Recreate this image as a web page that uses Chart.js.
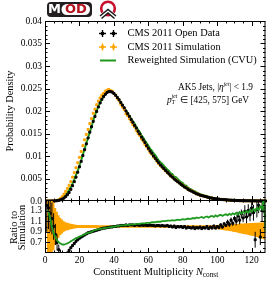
<!DOCTYPE html>
<html>
<head>
<meta charset="utf-8">
<script src="https://cdn.jsdelivr.net/npm/chart.js@4.4.1/dist/chart.umd.min.js"></script>
<style>
  html, body { margin: 0; padding: 0; background: #fff; }
  #wrap { position: relative; width: 274px; height: 285px; }
  #wrap canvas { position: absolute; left: 0; top: 0; }
</style>
</head>
<body>
<div id="wrap">
  <canvas id="mainChart" width="274" height="285"></canvas>
  <canvas id="ratioChart" width="274" height="285"></canvas>
</div>
<script>
// ---- data: one bin per constituent multiplicity, N = 1 .. 128 ----
var openData = [
  0, 0, 0, 0.00001, 0.00002, 0.00004, 0.00008, 0.00015, 0.00026, 0.00042,
  0.00065, 0.00097, 0.0014, 0.0019, 0.0026, 0.0034, 0.0043, 0.0053, 0.0064, 0.0076,
  0.0088, 0.0101, 0.0114, 0.0127, 0.0140, 0.0153, 0.0165, 0.0177, 0.0188, 0.0199,
  0.0209, 0.0218, 0.0226, 0.0232, 0.0237, 0.0241, 0.0243, 0.0243, 0.0242, 0.0239,
  0.0235, 0.0230, 0.0225, 0.0219, 0.0213, 0.0207, 0.0200, 0.0194, 0.0188, 0.0181,
  0.0175, 0.0168, 0.0162, 0.0155, 0.0149, 0.0142, 0.0136, 0.0130, 0.0123, 0.0117,
  0.0111, 0.0106, 0.0100, 0.0095, 0.0090, 0.0085, 0.0080, 0.0076, 0.0072, 0.0068,
  0.0064, 0.0060, 0.0056, 0.0053, 0.0049, 0.0046, 0.0043, 0.0040, 0.0037, 0.0034,
  0.0031, 0.0029, 0.0026, 0.0024, 0.0022, 0.0020, 0.0018, 0.0016, 0.0015, 0.0013,
  0.0012, 0.0011, 0.0010, 0.0009, 0.0008, 0.0007, 0.00063, 0.00056, 0.0005, 0.00045,
  0.0004, 0.00035, 0.00032, 0.0003, 0.00026, 0.00023, 0.0002, 0.00018, 0.00016, 0.00014,
  0.00012, 0.0001, 0.00009, 0.00008, 0.00007, 0.00006, 0.00005, 0.00005, 0.00004, 0.00004,
  0.00003, 0.00003, 0.00002, 0.00002, 0.00002, 0.00001, 0.00001, 0.00001
];
var simulation = [
  0, 0, 0, 0.00001, 0.00002, 0.00005, 0.00011, 0.00027, 0.00054, 0.00095,
  0.0015, 0.0021, 0.0028, 0.0035, 0.0043, 0.0053, 0.0063, 0.0074, 0.0085, 0.0097,
  0.0110, 0.0123, 0.0136, 0.0148, 0.0159, 0.0172, 0.0183, 0.0195, 0.0204, 0.0214,
  0.0222, 0.0229, 0.0235, 0.0239, 0.0244, 0.0246, 0.0248, 0.0245, 0.0244, 0.0239,
  0.0235, 0.0228, 0.0223, 0.0215, 0.0209, 0.0203, 0.0194, 0.0190, 0.0183, 0.0176,
  0.0170, 0.0165, 0.0157, 0.0150, 0.0146, 0.0138, 0.0133, 0.0126, 0.0121, 0.0115,
  0.0108, 0.0104, 0.0098, 0.0094, 0.0088, 0.0083, 0.0079, 0.0075, 0.0071, 0.0067,
  0.0063, 0.0060, 0.0055, 0.0054, 0.0049, 0.0047, 0.0043, 0.0040, 0.0037, 0.0035,
  0.0031, 0.0030, 0.0026, 0.0024, 0.0023, 0.0020, 0.0019, 0.0016, 0.0015, 0.0013,
  0.0012, 0.0011, 0.0010, 0.0009, 0.0008, 0.0007, 0.00065, 0.00055, 0.00052, 0.00045,
  0.00041, 0.00034, 0.00032, 0.00029, 0.00025, 0.00021, 0.00019, 0.00016, 0.00015, 0.00012,
  0.00011, 0.00008, 0.00008, 0.00006, 0.00006, 0.00005, 0.00004, 0.00004, 0.00003, 0.00003,
  0.00002, 0.00004, 0.00002, 0.00001, 0.00002, 0.00001, 0.00001, 0.00001
];
var reweighted = [
  0, 0, 0, 0.00001, 0.00002, 0.00004, 0.00008, 0.00019, 0.00037, 0.00063,
  0.00099, 0.0014, 0.0019, 0.0025, 0.0031, 0.0039, 0.0048, 0.0058, 0.0067, 0.0079,
  0.0090, 0.0103, 0.0116, 0.0129, 0.0140, 0.0153, 0.0165, 0.0179, 0.0190, 0.0201,
  0.0211, 0.0218, 0.0226, 0.0232, 0.0237, 0.0241, 0.0243, 0.0243, 0.0242, 0.0239,
  0.0235, 0.0230, 0.0225, 0.0219, 0.0213, 0.0207, 0.0200, 0.0196, 0.0188, 0.0183,
  0.0177, 0.0172, 0.0165, 0.0158, 0.0153, 0.0146, 0.0141, 0.0134, 0.0129, 0.0123,
  0.0116, 0.0112, 0.0106, 0.0102, 0.0096, 0.0090, 0.0086, 0.0083, 0.0078, 0.0074,
  0.0070, 0.0067, 0.0061, 0.0060, 0.0054, 0.0053, 0.0049, 0.0045, 0.0042, 0.0040,
  0.0035, 0.0034, 0.0030, 0.0027, 0.0026, 0.0023, 0.0022, 0.0019, 0.0017, 0.0015,
  0.0014, 0.0013, 0.0012, 0.0011, 0.0009, 0.0008, 0.00078, 0.00065, 0.00063, 0.00054,
  0.0005, 0.00041, 0.00038, 0.00035, 0.00031, 0.00025, 0.00024, 0.0002, 0.00019, 0.00015,
  0.00014, 0.0001, 0.0001, 0.00007, 0.00008, 0.00006, 0.00005, 0.00005, 0.00004, 0.00004,
  0.00003, 0.00005, 0.00003, 0.00001, 0.00003, 0.00001, 0.00002, 0.00001
];

// ratio panel
var ratioData = [
  1.40, 1.35, 1.25, 1.15, 1.00, 0.85, 0.70, 0.56, 0.48, 0.44,
  0.43, 0.46, 0.50, 0.55, 0.60, 0.64, 0.68, 0.72, 0.75, 0.78,
  0.80, 0.82, 0.84, 0.86, 0.88, 0.89, 0.90, 0.91, 0.92, 0.93,
  0.94, 0.95, 0.96, 0.97, 0.97, 0.98, 0.98, 0.99, 0.99, 1.00,
  1.00, 1.01, 1.01, 1.02, 1.02, 1.02, 1.03, 1.02, 1.03, 1.03,
  1.03, 1.02, 1.03, 1.03, 1.02, 1.03, 1.02, 1.03, 1.02, 1.02,
  1.03, 1.02, 1.02, 1.01, 1.02, 1.02, 1.01, 1.02, 1.01, 1.01,
  1.02, 1.00, 1.01, 0.99, 1.01, 0.98, 1.00, 0.99, 1.00, 0.98,
  1.00, 0.97, 0.99, 0.98, 0.97, 0.99, 0.96, 0.98, 0.97, 0.99,
  0.96, 0.98, 0.97, 1.00, 0.96, 0.99, 0.97, 1.01, 0.97, 1.00,
  0.98, 1.03, 0.99, 1.05, 1.02, 1.08, 1.04, 1.12, 1.06, 1.15,
  1.10, 1.20, 1.12, 1.24, 1.16, 1.28, 1.18, 1.30, 1.22, 1.35,
  1.26, 0.75, 1.32, 1.40, 0.80, 1.30, 1.45, 1.20
];
var ratioDataErr = [
  0.50, 0.40, 0.35, 0.30, 0.25, 0.20, 0.15, 0.10, 0.08, 0.06,
  0.05, 0.04, 0.03, 0.03, 0.02, 0.02, 0.02, 0.02, 0.02, 0.02,
  0.01, 0.01, 0.01, 0.01, 0.01, 0.01, 0.01, 0.01, 0.01, 0.01,
  0.01, 0.01, 0.01, 0.01, 0.01, 0.01, 0.01, 0.01, 0.01, 0.01,
  0.01, 0.01, 0.01, 0.01, 0.01, 0.01, 0.01, 0.01, 0.01, 0.01,
  0.01, 0.01, 0.01, 0.01, 0.01, 0.01, 0.01, 0.01, 0.01, 0.01,
  0.01, 0.01, 0.01, 0.01, 0.01, 0.01, 0.01, 0.01, 0.01, 0.01,
  0.01, 0.01, 0.01, 0.01, 0.01, 0.01, 0.01, 0.01, 0.01, 0.01,
  0.01, 0.01, 0.01, 0.01, 0.01, 0.01, 0.01, 0.01, 0.01, 0.01,
  0.02, 0.02, 0.02, 0.02, 0.02, 0.02, 0.02, 0.02, 0.02, 0.02,
  0.03, 0.03, 0.03, 0.03, 0.03, 0.05, 0.05, 0.05, 0.05, 0.05,
  0.08, 0.08, 0.08, 0.08, 0.08, 0.12, 0.12, 0.12, 0.12, 0.12,
  0.15, 0.15, 0.15, 0.15, 0.15, 0.20, 0.20, 0.20
];
var ratioReweighted = [
  1.30, 1.28, 1.15, 1.00, 0.88, 0.80, 0.74, 0.70, 0.68, 0.66,
  0.66, 0.67, 0.68, 0.70, 0.72, 0.74, 0.76, 0.78, 0.79, 0.81,
  0.82, 0.84, 0.85, 0.87, 0.88, 0.89, 0.90, 0.92, 0.93, 0.94,
  0.95, 0.95, 0.96, 0.97, 0.97, 0.98, 0.98, 0.99, 0.99, 1.00,
  1.00, 1.01, 1.01, 1.02, 1.02, 1.02, 1.03, 1.03, 1.03, 1.04,
  1.04, 1.04, 1.05, 1.05, 1.05, 1.06, 1.06, 1.06, 1.07, 1.07,
  1.07, 1.08, 1.08, 1.08, 1.09, 1.09, 1.09, 1.10, 1.10, 1.10,
  1.11, 1.11, 1.11, 1.12, 1.11, 1.12, 1.13, 1.12, 1.13, 1.14,
  1.13, 1.14, 1.15, 1.14, 1.15, 1.16, 1.15, 1.17, 1.16, 1.17,
  1.18, 1.16, 1.18, 1.19, 1.17, 1.19, 1.20, 1.18, 1.21, 1.19,
  1.21, 1.22, 1.20, 1.22, 1.23, 1.21, 1.24, 1.22, 1.25, 1.23,
  1.26, 1.22, 1.27, 1.24, 1.28, 1.25, 1.29, 1.26, 1.31, 1.28,
  1.33, 1.29, 1.35, 1.31, 1.38, 1.33, 1.55, 0.90
];
// simulation statistical band (lower / upper edge of ratio)
var simBandLow = [
  0.45, 0.45, 0.45, 0.45, 0.55, 0.65, 0.72, 0.79, 0.84, 0.87,
  0.90, 0.92, 0.93, 0.94, 0.95, 0.955, 0.96, 0.965, 0.97, 0.97,
  0.97, 0.97, 0.97, 0.97, 0.97, 0.97, 0.97, 0.97, 0.97, 0.97,
  0.975, 0.975, 0.975, 0.975, 0.975, 0.975, 0.975, 0.975, 0.975, 0.975, 0.975, 0.975, 0.975,
  0.975, 0.975, 0.975, 0.975, 0.975, 0.975, 0.975, 0.975, 0.975, 0.975, 0.975, 0.975, 0.975,
  0.975, 0.975, 0.975, 0.975, 0.975, 0.975, 0.975, 0.975, 0.975, 0.975, 0.975, 0.975, 0.975,
  0.975, 0.975, 0.975, 0.975, 0.975, 0.975, 0.975, 0.975, 0.975, 0.975, 0.975, 0.975, 0.975,
  0.975, 0.975, 0.975, 0.975, 0.975, 0.975, 0.975, 0.975, 0.975, 0.975, 0.975, 0.975, 0.975,
  0.97, 0.965, 0.96, 0.955, 0.95, 0.945, 0.94, 0.935, 0.93, 0.925, 0.92,
  0.915, 0.91, 0.90, 0.895, 0.89, 0.88, 0.875, 0.87, 0.86, 0.855, 0.85,
  0.84, 0.83, 0.825, 0.82, 0.81, 0.80, 0.79, 0.78, 0.77, 0.76, 0.75
];
var simBandHigh = [
  1.55, 1.55, 1.55, 1.55, 1.45, 1.35, 1.28, 1.21, 1.16, 1.13,
  1.10, 1.08, 1.07, 1.06, 1.05, 1.045, 1.04, 1.035, 1.03, 1.03,
  1.03, 1.03, 1.03, 1.03, 1.03, 1.03, 1.03, 1.03, 1.03, 1.03,
  1.025, 1.025, 1.025, 1.025, 1.025, 1.025, 1.025, 1.025, 1.025, 1.025, 1.025, 1.025, 1.025,
  1.025, 1.025, 1.025, 1.025, 1.025, 1.025, 1.025, 1.025, 1.025, 1.025, 1.025, 1.025, 1.025,
  1.025, 1.025, 1.025, 1.025, 1.025, 1.025, 1.025, 1.025, 1.025, 1.025, 1.025, 1.025, 1.025,
  1.025, 1.025, 1.025, 1.025, 1.025, 1.025, 1.025, 1.025, 1.025, 1.025, 1.025, 1.025, 1.025,
  1.025, 1.025, 1.025, 1.025, 1.025, 1.025, 1.025, 1.025, 1.025, 1.025, 1.025, 1.025, 1.025,
  1.025, 1.025, 1.03, 1.03, 1.03, 1.035, 1.035, 1.035, 1.04, 1.04, 1.04,
  1.045, 1.045, 1.045, 1.05, 1.05, 1.05, 1.055, 1.055, 1.055, 1.06, 1.06,
  1.06, 1.065, 1.065, 1.065, 1.07, 1.07, 1.07, 1.075, 1.075, 1.08, 1.08
];

// axis ticks
var multTicks = [0, 20, 40, 60, 80, 100, 120];
var densityTicks = [0, 0.005, 0.01, 0.015, 0.02, 0.025, 0.03, 0.035, 0.04];
var densityLabels = ["0.0", "0.005", "0.01", "0.015", "0.02", "0.025", "0.03", "0.035", "0.04"];
var ratioTicks = [0.7, 0.9, 1.1, 1.3];
var ratioMinor = [0.6, 0.8, 1.0, 1.2, 1.4];

var SERIF = '"Liberation Serif", "Times New Roman", serif';
var ORANGE = '#ffa500';
var GREEN = '#1f9a1f';

function pts(arr) {
  return arr.map(function(v, i) { return { x: i + 1, y: v }; });
}

function partFont(p, size) {
  return (p.it ? 'italic ' : '') + (size * (p.s || 1)) + 'px ' + SERIF;
}

// draws a run of text pieces (italic / sub / superscript); squeezes it into
// `fitW` pixels if given, anchored at its left or right end
function richText(ctx, parts, x, y, size, align, fitW) {
  var w = 0;
  parts.forEach(function(p) {
    ctx.font = partFont(p, size);
    if (!p.keep) w += ctx.measureText(p.t).width;
  });
  var sx = fitW ? Math.min(1, fitW / w) : 1;
  var left = align === 'right' ? x - w * sx : align === 'center' ? x - w * sx / 2 : x;
  ctx.save();
  ctx.translate(left, y);
  ctx.scale(sx, 1);
  ctx.textAlign = 'left';
  var cx = 0;
  parts.forEach(function(p) {
    ctx.font = partFont(p, size);
    ctx.fillText(p.t, cx, p.dy || 0);
    if (!p.keep) cx += ctx.measureText(p.t).width;
  });
  ctx.restore();
}

function drawFrame(chart, yMajor, yMinor) {
  var ctx = chart.ctx, a = chart.chartArea, xs = chart.scales.x, ys = chart.scales.y;
  ctx.save();
  ctx.strokeStyle = '#000';
  ctx.lineWidth = 1;
  ctx.strokeRect(a.left + 0.5, a.top + 0.5, a.right - a.left - 1, a.bottom - a.top - 1);
  ctx.beginPath();
  for (var v = 0; v <= 128; v += 5) {
    var px = Math.round(xs.getPixelForValue(v)) + 0.5;
    var len = multTicks.indexOf(v) >= 0 ? 5 : 2.5;
    ctx.moveTo(px, a.bottom); ctx.lineTo(px, a.bottom - len);
    ctx.moveTo(px, a.top); ctx.lineTo(px, a.top + len);
  }
  yMajor.forEach(function(v) {
    var py = Math.round(ys.getPixelForValue(v)) + 0.5;
    ctx.moveTo(a.left, py); ctx.lineTo(a.left + 5, py);
    ctx.moveTo(a.right, py); ctx.lineTo(a.right - 5, py);
  });
  yMinor.forEach(function(v) {
    var py = Math.round(ys.getPixelForValue(v)) + 0.5;
    ctx.moveTo(a.left, py); ctx.lineTo(a.left + 2.5, py);
    ctx.moveTo(a.right, py); ctx.lineTo(a.right - 2.5, py);
  });
  ctx.stroke();
  ctx.restore();
}

function legendCross(ctx, cx, cy, color) {
  ctx.strokeStyle = color;
  ctx.fillStyle = color;
  ctx.lineWidth = 1.4;
  ctx.beginPath();
  ctx.moveTo(cx - 3.5, cy); ctx.lineTo(cx + 3.5, cy);
  ctx.moveTo(cx, cy - 3.5); ctx.lineTo(cx, cy + 3.5);
  ctx.stroke();
  ctx.fillRect(cx - 1.5, cy - 1.5, 3, 3);
}

function drawLogo(ctx) {
  ctx.save();
  ctx.fillStyle = '#231f20';
  ctx.beginPath(); ctx.roundRect(47, 2, 45, 15, 4); ctx.fill();
  ctx.fillStyle = '#fff';
  ctx.beginPath(); ctx.roundRect(61.5, 4, 28.5, 11, 5.5); ctx.fill();
  ctx.font = 'bold 13px "DejaVu Sans", sans-serif';
  ctx.textAlign = 'center';
  ctx.textBaseline = 'middle';
  ctx.fillText('M', 54.5, 10);
  ctx.fillStyle = '#b3121c';
  ctx.fillText('OD', 75.8, 10);
  // red ring with double chevron
  ctx.strokeStyle = '#c8102e';
  ctx.lineWidth = 2.6;
  ctx.beginPath(); ctx.arc(108, 8.5, 6.8, 0, Math.PI * 2); ctx.stroke();
  ctx.strokeStyle = '#fff';
  ctx.lineWidth = 4;
  ctx.beginPath(); ctx.moveTo(100, 17); ctx.lineTo(108, 10.5); ctx.lineTo(116, 17); ctx.stroke();
  ctx.strokeStyle = '#1a1a1a';
  ctx.lineWidth = 1.5;
  ctx.beginPath();
  ctx.moveTo(100, 16); ctx.lineTo(108, 9.5); ctx.lineTo(116, 16);
  ctx.moveTo(101.5, 18.5); ctx.lineTo(108, 13); ctx.lineTo(114.5, 18.5);
  ctx.stroke();
  ctx.restore();
}

var mainDecor = {
  id: 'mainDecor',
  afterDraw: function(chart) {
    var ctx = chart.ctx, a = chart.chartArea, ys = chart.scales.y;
    var minor = [];
    for (var k = 1; k < 40; k++) if (k % 5) minor.push(k / 1000);
    drawFrame(chart, densityTicks, minor);
    ctx.save();
    ctx.fillStyle = '#000';
    ctx.font = '9.5px ' + SERIF;
    ctx.textAlign = 'right';
    ctx.textBaseline = 'middle';
    densityTicks.forEach(function(v, i) {
      ctx.fillText(densityLabels[i], a.left - 3, ys.getPixelForValue(v));
    });
    // y title
    ctx.save();
    ctx.translate(10.5, (a.top + a.bottom) / 2);
    ctx.rotate(-Math.PI / 2);
    ctx.textAlign = 'center';
    ctx.font = '10.4px ' + SERIF;
    ctx.fillText('Probability Density', 0, 0);
    ctx.restore();
    // legend
    legendCross(ctx, 102.5, 33.5, '#000'); legendCross(ctx, 113.5, 33.5, '#000');
    legendCross(ctx, 102.5, 47, ORANGE); legendCross(ctx, 113.5, 47, ORANGE);
    ctx.strokeStyle = GREEN; ctx.lineWidth = 2;
    ctx.beginPath(); ctx.moveTo(100, 60.5); ctx.lineTo(116, 60.5); ctx.stroke();
    ctx.fillStyle = '#000';
    ctx.textAlign = 'left';
    ctx.font = '10.4px ' + SERIF;
    ctx.fillText('CMS 2011 Open Data', 127.5, 33.5);
    ctx.fillText('CMS 2011 Simulation', 127.5, 47);
    ctx.fillText('Reweighted Simulation (CVU)', 127.5, 60.5);
    // jet selection
    richText(ctx, [
      { t: 'AK5 Jets, |' }, { t: '\u03b7', it: true },
      { t: 'jet', it: true, s: 0.62, dy: -3.5 }, { t: '| < 1.9' }
    ], 253, 87.5, 9.8, 'right', 75);
    richText(ctx, [
      { t: 'p', it: true }, { t: 'T', it: true, s: 0.62, dy: 2.8, keep: true },
      { t: 'jet', it: true, s: 0.62, dy: -3.8 }, { t: ' \u2208 [425, 575] GeV' }
    ], 249, 100, 9.8, 'right', 82);
    ctx.restore();
    drawLogo(ctx);
  }
};

var ratioDecor = {
  id: 'ratioDecor',
  afterDatasetDraw: function(chart, args) {
    if (args.index !== 2) return;
    var ctx = chart.ctx, a = chart.chartArea, xs = chart.scales.x, ys = chart.scales.y;
    ctx.save();
    ctx.beginPath();
    ctx.rect(a.left, a.top, a.right - a.left, a.bottom - a.top);
    ctx.clip();
    ctx.strokeStyle = '#000';
    ctx.lineWidth = 1;
    ctx.beginPath();
    ratioData.forEach(function(v, i) {
      var px = xs.getPixelForValue(i + 1);
      ctx.moveTo(px, ys.getPixelForValue(v - ratioDataErr[i]));
      ctx.lineTo(px, ys.getPixelForValue(v + ratioDataErr[i]));
    });
    ctx.stroke();
    ctx.restore();
  },
  afterDraw: function(chart) {
    var ctx = chart.ctx, a = chart.chartArea, xs = chart.scales.x, ys = chart.scales.y;
    drawFrame(chart, ratioTicks, ratioMinor);
    ctx.save();
    ctx.fillStyle = '#000';
    ctx.font = '9.5px ' + SERIF;
    ctx.textAlign = 'right';
    ctx.textBaseline = 'middle';
    ratioTicks.forEach(function(v) {
      ctx.fillText(v.toFixed(1), a.left - 3, ys.getPixelForValue(v));
    });
    ctx.textAlign = 'center';
    multTicks.forEach(function(v) {
      ctx.fillText(String(v), xs.getPixelForValue(v), a.bottom + 7.5);
    });
    // ratio title
    ctx.save();
    ctx.translate(14.5, (a.top + a.bottom) / 2 + 1);
    ctx.rotate(-Math.PI / 2);
    ctx.font = '10.4px ' + SERIF;
    ctx.fillText('Ratio to', 0, 0);
    ctx.fillText('Simulation', 0, 8);
    ctx.restore();
    // x title
    richText(ctx, [
      { t: 'Constituent Multiplicity ' }, { t: 'N', it: true },
      { t: 'const', s: 0.7, dy: 2.5 }
    ], 155.7, 272.5, 10.4, 'center');
    ctx.restore();
  }
};

function baseOptions(padding, yMin, yMax) {
  return {
    responsive: false,
    animation: false,
    devicePixelRatio: 1,
    events: [],
    layout: { padding: padding },
    plugins: { legend: { display: false }, tooltip: { enabled: false } },
    scales: {
      x: { type: 'linear', min: 0, max: 128, display: false },
      y: { type: 'linear', min: yMin, max: yMax, display: false }
    }
  };
}

new Chart(document.getElementById('mainChart'), {
  type: 'scatter',
  data: {
    datasets: [
      { label: 'CMS 2011 Open Data', data: pts(openData), pointStyle: 'rect',
        pointRadius: 1.4, pointBorderWidth: 1, backgroundColor: '#000', borderColor: '#000',
        clip: false, order: 0 },
      { label: 'CMS 2011 Simulation', data: pts(simulation), pointStyle: 'rect',
        pointRadius: 1.4, pointBorderWidth: 1, backgroundColor: ORANGE, borderColor: ORANGE,
        clip: false, order: 1 },
      { label: 'Reweighted Simulation (CVU)', data: pts(reweighted), showLine: true,
        pointRadius: 0, borderColor: GREEN, borderWidth: 2, clip: false, order: 2 }
    ]
  },
  options: baseOptions({ left: 45, top: 21, right: 8.5, bottom: 84 }, 0, 0.04),
  plugins: [mainDecor]
});

new Chart(document.getElementById('ratioChart'), {
  type: 'scatter',
  data: {
    datasets: [
      { label: 'band low', data: pts(simBandLow), showLine: true, stepped: 'middle',
        pointRadius: 0, borderWidth: 0, borderColor: 'rgba(0,0,0,0)', fill: false, clip: 0, order: 3 },
      { label: 'band high', data: pts(simBandHigh), showLine: true, stepped: 'middle',
        pointRadius: 0, borderWidth: 0, borderColor: 'rgba(0,0,0,0)', backgroundColor: ORANGE,
        fill: '-1', clip: 0, order: 2 },
      { label: 'data / sim', data: pts(ratioData), pointStyle: 'rect',
        pointRadius: 1.4, pointBorderWidth: 1, backgroundColor: '#000', borderColor: '#000',
        clip: 0, order: 1 },
      { label: 'reweighted / sim', data: pts(ratioReweighted), showLine: true,
        pointRadius: 0, borderColor: GREEN, borderWidth: 1.8, clip: 0, order: 0 }
    ]
  },
  options: baseOptions({ left: 45, top: 200, right: 8.5, bottom: 32 }, 0.5, 1.5),
  plugins: [ratioDecor]
});
</script>
</body>
</html>
